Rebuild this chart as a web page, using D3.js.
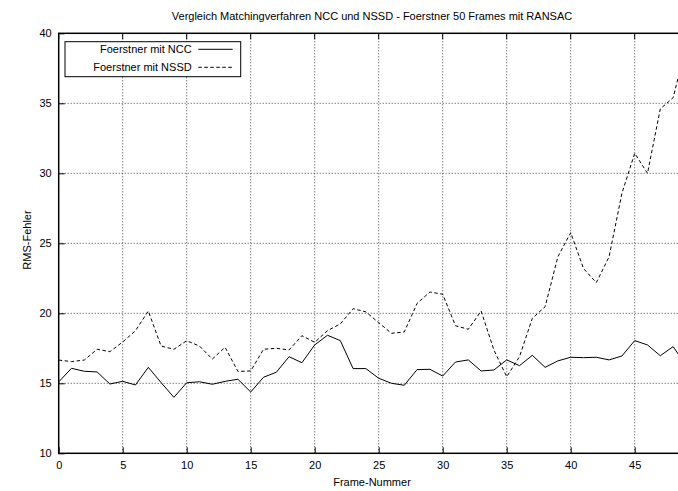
<!DOCTYPE html>
<html>
<head>
<meta charset="utf-8">
<script src="https://cdn.jsdelivr.net/npm/d3@7"></script>
<style>
  body { margin: 0; background: #fff; }
  text { font-family: "Liberation Sans", Arial, Helvetica, sans-serif; font-size: 11px; fill: #000; }
</style>
</head>
<body>
<svg id="chart" width="678" height="491"></svg>
<script>
// Frame indices
const frames = [0,1,2,3,4,5,6,7,8,9,10,11,12,13,14,15,16,17,18,19,20,21,22,23,24,
                25,26,27,28,29,30,31,32,33,34,35,36,37,38,39,40,41,42,43,44,45,46,47,48,49];

// RMS error per frame, NCC matching
const ncc = [15.10,16.07,15.86,15.81,14.95,15.14,14.88,16.14,15.05,14.00,
             15.04,15.11,14.93,15.14,15.29,14.38,15.43,15.79,16.90,16.47,
             17.74,18.43,18.05,16.05,16.05,15.36,15.00,14.86,15.98,16.00,
             15.52,16.52,16.67,15.88,15.95,16.67,16.26,17.00,16.14,16.60,
             16.86,16.83,16.86,16.67,16.95,18.05,17.74,16.97,17.62,16.30];

// RMS error per frame, NSSD matching
const nssd = [16.66,16.55,16.66,17.43,17.26,17.95,18.76,20.16,17.66,17.43,
              18.04,17.66,16.73,17.57,15.85,15.88,17.43,17.50,17.38,18.40,
              17.93,18.76,19.24,20.33,20.10,19.33,18.57,18.67,20.71,21.52,
              21.36,19.11,18.86,20.16,17.38,15.47,16.90,19.64,20.47,24.04,
              25.76,23.20,22.19,24.04,28.57,31.43,30.00,34.60,35.40,39.00];

const xTicks = [0,5,10,15,20,25,30,35,40,45];
const yTicks = [10,15,20,25,30,35,40];

const seriesNames = ["Foerstner mit NCC", "Foerstner mit NSSD"];
const titleText = "Vergleich Matchingverfahren NCC und NSSD - Foerstner 50 Frames mit RANSAC";

const svg = d3.select("#chart");
const W = 678, H = 491;
const plotL = 58.7, plotT = 33.3, plotB = 453.3, plotR = 698.7;

const x = d3.scaleLinear().domain([0, 50]).range([plotL, plotR]);
const y = d3.scaleLinear().domain([10, 40]).range([plotB, plotT]);

svg.append("rect").attr("width", W).attr("height", H).attr("fill", "#fff");

svg.append("defs").append("clipPath").attr("id", "plotclip")
  .append("rect").attr("x", plotL).attr("y", plotT)
  .attr("width", plotR - plotL).attr("height", plotB - plotT);

// dotted grid
const grid = svg.append("g").attr("stroke", "#444").attr("stroke-width", 1)
  .attr("stroke-dasharray", "1,2").attr("fill", "none");
grid.selectAll("line.v").data(xTicks.filter(t => t > 0)).join("line")
  .attr("class", "v")
  .attr("x1", d => x(d)).attr("x2", d => x(d))
  .attr("y1", plotB).attr("y2", plotT);
grid.selectAll("line.h").data(yTicks.filter(t => t > 10 && t < 40)).join("line")
  .attr("class", "h")
  .attr("x1", plotL).attr("x2", plotR)
  .attr("y1", d => y(d)).attr("y2", d => y(d));

// axes with inward ticks
const xAxis = d3.axisBottom(x).tickValues(xTicks).tickSizeInner(-6).tickSizeOuter(0).tickPadding(8);
const gx = svg.append("g").attr("transform", `translate(0,${plotB})`).call(xAxis);
const yAxis = d3.axisLeft(y).tickValues(yTicks).tickSizeInner(-6).tickSizeOuter(0).tickPadding(7);
const gy = svg.append("g").attr("transform", `translate(${plotL},0)`).call(yAxis);
[gx, gy].forEach(g => {
  g.select(".domain").remove();
  g.selectAll("text").style("font-family", "Liberation Sans, Arial, sans-serif").style("font-size", "11px").attr("fill", "#000");
  g.selectAll("line").attr("stroke", "#000");
});
// mirrored ticks along the top edge
svg.append("g").selectAll("line").data(xTicks).join("line")
  .attr("x1", d => x(d)).attr("x2", d => x(d)).attr("y1", plotT).attr("y2", plotT + 6)
  .attr("stroke", "#000");

// data lines
const line = d3.line().x((d, i) => x(frames[i])).y(d => y(d));
const plot = svg.append("g").attr("clip-path", "url(#plotclip)");
plot.append("path").datum(ncc).attr("d", line)
  .attr("fill", "none").attr("stroke", "#000").attr("stroke-width", 1);
plot.append("path").datum(nssd).attr("d", line)
  .attr("fill", "none").attr("stroke", "#000").attr("stroke-width", 1)
  .attr("stroke-dasharray", "3.5,2.5");

// border
svg.append("rect").attr("x", plotL).attr("y", plotT)
  .attr("width", plotR - plotL).attr("height", plotB - plotT)
  .attr("fill", "none").attr("stroke", "#000").attr("stroke-width", 1.5);

// legend
const lg = svg.append("g");
lg.append("rect").attr("x", 65).attr("y", 41.7).attr("width", 175.7).attr("height", 35)
  .attr("fill", "#fff").attr("stroke", "#000").attr("stroke-width", 1);
const rows = [{name: seriesNames[0], dash: null, yy: 49.3}, {name: seriesNames[1], dash: "3.5,2.5", yy: 67.3}];
rows.forEach(r => {
  lg.append("text").attr("x", 191.7).attr("y", r.yy).attr("dy", "0.35em")
    .attr("text-anchor", "end").text(r.name);
  lg.append("line").attr("x1", 198.3).attr("x2", 232.7).attr("y1", r.yy).attr("y2", r.yy)
    .attr("stroke", "#000").attr("stroke-width", 1)
    .attr("stroke-dasharray", r.dash);
});

// titles
svg.append("text").attr("x", 372).attr("y", 16).attr("dy", "0.35em")
  .attr("text-anchor", "middle").text(titleText);
svg.append("text").attr("x", 372).attr("y", 482).attr("dy", "0.35em")
  .attr("text-anchor", "middle").text("Frame-Nummer");
svg.append("text").attr("transform", "translate(26.7,240) rotate(-90)")
  .attr("dy", "0.35em").attr("text-anchor", "middle").text("RMS-Fehler");
</script>
</body>
</html>
